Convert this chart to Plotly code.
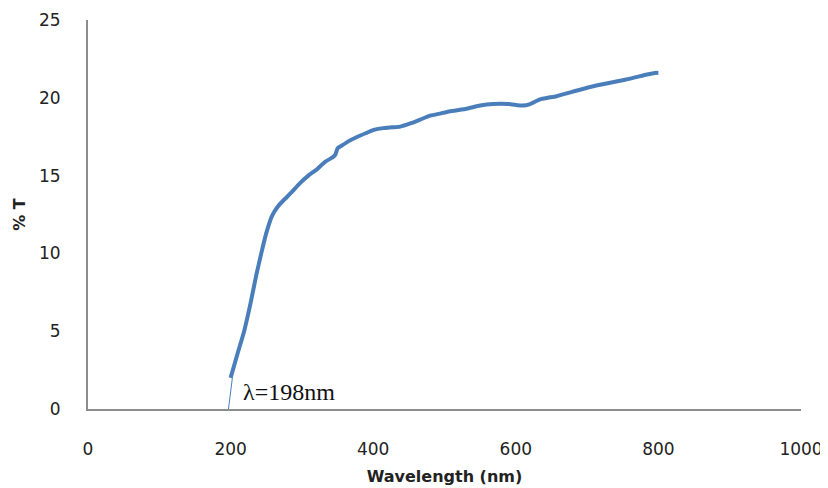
import plotly.graph_objects as go

wavelength = [200, 210, 219, 228, 236, 243, 250, 258, 266, 274, 285, 297, 309, 321, 333, 344,
              347, 350, 355, 365, 378, 391, 402, 414, 426, 438, 452, 466, 480, 495, 510, 531,
              550, 568, 590, 610, 620, 634, 645, 657, 680, 700, 720, 741, 762, 784, 795, 800]
transmittance = [2.0, 3.6, 5.0, 6.8, 8.6, 10.0, 11.3, 12.4, 13.0, 13.4, 13.9, 14.5, 15.0, 15.4,
                 15.9, 16.2, 16.35, 16.75, 16.9, 17.2, 17.5, 17.75, 17.95, 18.05, 18.1, 18.15,
                 18.35, 18.6, 18.85, 19.0, 19.15, 19.3, 19.5, 19.6, 19.6, 19.5, 19.6, 19.9, 20.0,
                 20.1, 20.4, 20.65, 20.85, 21.05, 21.25, 21.5, 21.6, 21.6]

edge_x = [197, 202.5]
edge_y = [0, 2.0]
edge_label = "λ=198nm"

x_ticks = [0, 200, 400, 600, 800, 1000]
y_ticks = [0, 5, 10, 15, 20, 25]

fig = go.Figure()
fig.add_trace(go.Scatter(x=wavelength, y=transmittance, mode="lines",
                         line=dict(color="#4A7EBB", width=4, shape="spline", smoothing=0.5),
                         showlegend=False, hoverinfo="skip"))
fig.add_trace(go.Scatter(x=edge_x, y=edge_y, mode="lines",
                         line=dict(color="#4A7EBB", width=1),
                         showlegend=False, hoverinfo="skip"))
fig.add_annotation(x=217, y=1.1, xref="x", yref="y", text=edge_label, showarrow=False,
                   xanchor="left", yanchor="middle", xshift=-2,
                   font=dict(family="Liberation Serif", size=24, color="#111111"))

axis_font = dict(family="DejaVu Sans", size=17, color="#222222")
title_font = dict(family="DejaVu Sans", size=16, color="#222222")
fig.update_layout(
    width=820, height=480,
    margin=dict(l=80, r=27, t=12, b=79),
    paper_bgcolor="white", plot_bgcolor="white",
    xaxis=dict(range=[0, 1000], tickvals=x_ticks, showgrid=False, zeroline=False,
               showline=True, linecolor="#8C8C8C", linewidth=2, ticks="",
               ticklabelstandoff=24, tickfont=axis_font, automargin=False,
               title=dict(text="<b>Wavelength (nm)</b>", font=title_font, standoff=12)),
    yaxis=dict(range=[0, 25], tickvals=y_ticks, showgrid=False, zeroline=False,
               showline=True, linecolor="#8C8C8C", linewidth=2, ticks="",
               ticklabelstandoff=22, tickfont=axis_font, automargin=False,
               title=dict(text="<b>% T</b>", font=title_font, standoff=9)),
)
fig.write_html("out.html")
